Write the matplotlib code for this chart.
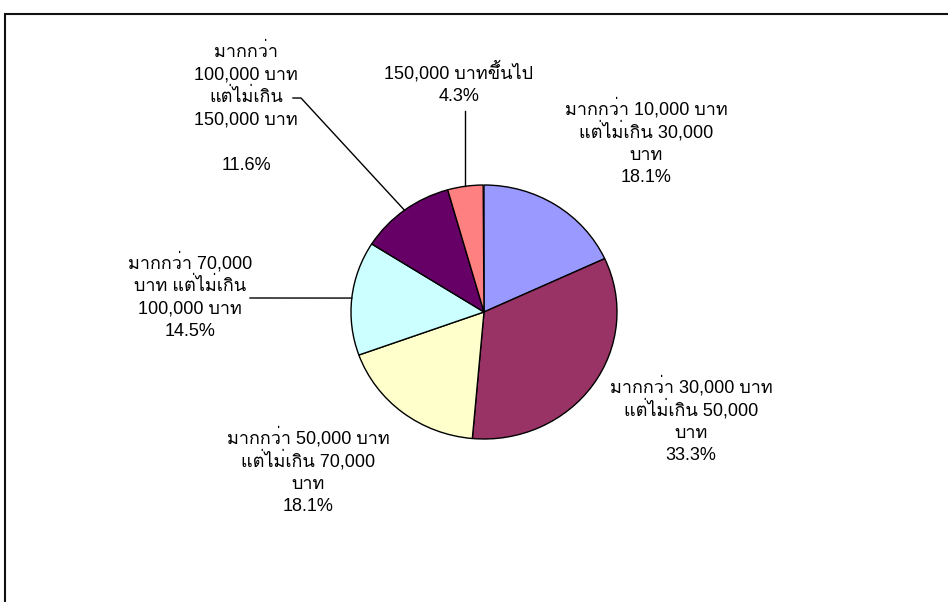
import numpy as np
import matplotlib
matplotlib.use("Agg")
import matplotlib.pyplot as plt
from matplotlib.patches import Rectangle

# income groups (Thai), share in percent
labels = [
    "มากกว่า 10,000 บาท\nแต่ไม่เกิน 30,000\nบาท",
    "มากกว่า 30,000 บาท\nแต่ไม่เกิน 50,000\nบาท",
    "มากกว่า 50,000 บาท\nแต่ไม่เกิน 70,000\nบาท",
    "มากกว่า 70,000\nบาท แต่ไม่เกิน\n100,000 บาท",
    "มากกว่า\n100,000 บาท\nแต่ไม่เกิน\n150,000 บาท\n",
    "150,000 บาทขึ้นไป",
]
shares = [18.1, 33.3, 18.1, 14.5, 11.6, 4.3]
colors = ["#9999FF", "#993366", "#FFFFCC", "#CCFFFF", "#660066", "#FF8080"]

W, H = 948, 602
RX, RY = 133, 127  # pie is a little wider than tall
CX, CY = 484, 312
LS = 22.5  # line pitch of labels, px

fonts = ["Liberation Sans", "Loma", "Sarabun", "DejaVu Sans"]

fig = plt.figure(figsize=(W / 100, H / 100), dpi=100)
ax = fig.add_axes([0, 0, 1, 1])


def px(x, y):
    return x / RX, (H - y) / RY


center = px(CX, CY)
wedges, _ = ax.pie(np.array(shares) / 100, colors=colors, startangle=90,
                   counterclock=False, normalize=False, center=center, radius=1,
                   wedgeprops=dict(edgecolor="black", linewidth=1.0))
ax.set_xlim(0, W / RX)
ax.set_ylim(0, H / RY)
ax.set_aspect("auto")
ax.axis("off")


def edge_point(i):
    w = wedges[i]
    a = np.deg2rad((w.theta1 + w.theta2) / 2)
    return center[0] + np.cos(a), center[1] + np.sin(a)


# label centres (pixels); lines drawn one by one so the pitch stays even
label_pos = [(646, 143), (691, 421), (308, 472), (190, 297), (246, 108), (459, 84)]
for i, (lab, s) in enumerate(zip(labels, shares)):
    lines = f"{lab}\n{s:.1f}%".split("\n")
    cx, cy = label_pos[i]
    n = len(lines)
    for k, line in enumerate(lines):
        if not line:
            continue
        yb = cy - (n - 1) / 2 * LS + k * LS + 5.5
        x, y = px(cx, yb)
        ax.text(x, y, line, ha="center", va="baseline",
                fontsize=13, family=fonts, color="black")

# leader lines
lw = 1.0
e = edge_point(3)
s0 = px(250, 298)
ax.plot([s0[0], e[0]], [s0[1], e[1]], color="black", lw=lw)
e = edge_point(4)
a0, a1 = px(293, 98), px(301, 98)
ax.plot([a0[0], a1[0], e[0]], [a0[1], a1[1], e[1]], color="black", lw=lw)
e = edge_point(5)
s0 = px(e[0] * RX, 111)
ax.plot([s0[0], e[0]], [s0[1], e[1]], color="black", lw=lw)

# chart area border (cut off at right and bottom)
fig.patches.append(Rectangle((5 / W, -0.1), 1.2, 1.1 - 14 / H, transform=fig.transFigure,
                             fill=False, edgecolor="#111111", linewidth=1.5))

fig.savefig("out.png", dpi=100)
